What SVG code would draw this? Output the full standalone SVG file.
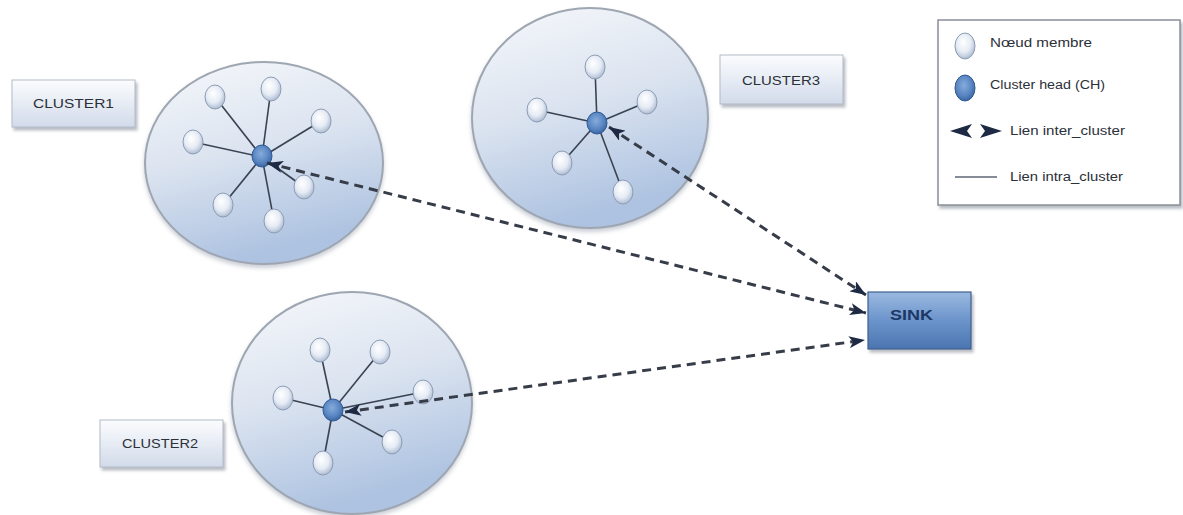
<svg xmlns="http://www.w3.org/2000/svg" width="1183" height="515" viewBox="0 0 1183 515">
  <defs>
    <linearGradient id="clusterFill" x1="0" y1="0" x2="0.3" y2="1">
      <stop offset="0" stop-color="#f6f8fb"/>
      <stop offset="0.5" stop-color="#dce4f0"/>
      <stop offset="1" stop-color="#aec3e1"/>
    </linearGradient>
    <radialGradient id="memberFill" cx="0.45" cy="0.4" r="0.6" fx="0.4" fy="0.35">
      <stop offset="0" stop-color="#ffffff"/>
      <stop offset="0.6" stop-color="#e6ecf5"/>
      <stop offset="1" stop-color="#aebdd3"/>
    </radialGradient>
    <radialGradient id="headFill" cx="0.45" cy="0.4" r="0.6">
      <stop offset="0" stop-color="#86acdc"/>
      <stop offset="0.7" stop-color="#5582bf"/>
      <stop offset="1" stop-color="#3a65a0"/>
    </radialGradient>
    <linearGradient id="labelFill" x1="0" y1="0" x2="0" y2="1">
      <stop offset="0" stop-color="#fbfcfe"/>
      <stop offset="1" stop-color="#d2dbea"/>
    </linearGradient>
    <linearGradient id="sinkFill" x1="0" y1="0" x2="0" y2="1">
      <stop offset="0" stop-color="#9bb9e0"/>
      <stop offset="0.5" stop-color="#6b94cb"/>
      <stop offset="1" stop-color="#4b75b0"/>
    </linearGradient>
    <filter id="shadow" x="-10%" y="-10%" width="130%" height="130%">
      <feDropShadow dx="2" dy="3" stdDeviation="1.5" flood-color="#7d8591" flood-opacity="0.55"/>
    </filter>
    <filter id="softShadow" x="-10%" y="-10%" width="120%" height="125%">
      <feDropShadow dx="0" dy="3" stdDeviation="2" flood-color="#8a93a3" flood-opacity="0.45"/>
    </filter>
    <marker id="stealth" viewBox="0 0 16 12" refX="16" refY="6" markerWidth="16" markerHeight="12" markerUnits="userSpaceOnUse" orient="auto-start-reverse">
      <path d="M0,0 L16,6 L0,12 L4,6 Z" fill="#1e2a44"/>
    </marker>
    <g id="member">
      <ellipse rx="10" ry="12" fill="url(#memberFill)" stroke="#8d9cb4" stroke-width="1"/>
    </g>
    <g id="head">
      <ellipse rx="10" ry="11" fill="url(#headFill)" stroke="#2f5a94" stroke-width="1"/>
    </g>
  </defs>
  <style>
    .cluster { fill: url(#clusterFill); stroke: #9ea6b2; stroke-width: 2; }
    .intra { stroke: #3a4352; stroke-width: 1.6; fill: none; }
    .inter { stroke: #363c48; stroke-width: 3; fill: none; stroke-dasharray: 9 6; }
    .label { fill: url(#labelFill); stroke: #b3bbc8; stroke-width: 1; }
    .labeltext { font-family: "Liberation Sans", Arial, sans-serif; font-size: 13px; fill: #2c3038; }
    .legendtext { font-family: "Liberation Sans", Arial, sans-serif; font-size: 12px; fill: #2c3038; }
  </style>

  <rect width="1183" height="515" fill="#ffffff"/>

  <!-- Cluster 1 -->
  <g id="cluster1">
    <ellipse class="cluster" cx="264" cy="163" rx="119" ry="101" filter="url(#softShadow)"/>
    <g class="intra">
      <line x1="262" y1="157" x2="215" y2="97"/>
      <line x1="262" y1="157" x2="271" y2="89"/>
      <line x1="262" y1="157" x2="321" y2="121"/>
      <line x1="262" y1="157" x2="193" y2="142"/>
      <line x1="262" y1="157" x2="304" y2="187"/>
      <line x1="262" y1="157" x2="223" y2="205"/>
      <line x1="262" y1="157" x2="274" y2="221"/>
    </g>
    <use href="#member" x="215" y="97"/>
    <use href="#member" x="271" y="89"/>
    <use href="#member" x="321" y="121"/>
    <use href="#member" x="193" y="142"/>
    <use href="#member" x="304" y="187"/>
    <use href="#member" x="223" y="205"/>
    <use href="#member" x="274" y="221"/>
    <use href="#head" x="262" y="156"/>
  </g>

  <!-- Cluster 3 -->
  <g id="cluster3">
    <ellipse class="cluster" cx="590" cy="118" rx="118" ry="110" filter="url(#softShadow)"/>
    <g class="intra">
      <line x1="597" y1="123" x2="595" y2="67"/>
      <line x1="597" y1="123" x2="647" y2="102"/>
      <line x1="597" y1="123" x2="537" y2="110"/>
      <line x1="597" y1="123" x2="562" y2="163"/>
      <line x1="597" y1="123" x2="623" y2="192"/>
    </g>
    <use href="#member" x="595" y="67"/>
    <use href="#member" x="647" y="102"/>
    <use href="#member" x="537" y="110"/>
    <use href="#member" x="562" y="163"/>
    <use href="#member" x="623" y="192"/>
    <use href="#head" x="597" y="123"/>
  </g>

  <!-- Cluster 2 -->
  <g id="cluster2">
    <ellipse class="cluster" cx="352" cy="403" rx="120" ry="111" filter="url(#softShadow)"/>
    <g class="intra">
      <line x1="333" y1="410" x2="320" y2="350"/>
      <line x1="333" y1="410" x2="380" y2="352"/>
      <line x1="333" y1="410" x2="423" y2="392"/>
      <line x1="333" y1="410" x2="283" y2="398"/>
      <line x1="333" y1="410" x2="392" y2="442"/>
      <line x1="333" y1="410" x2="323" y2="463"/>
    </g>
    <use href="#member" x="320" y="350"/>
    <use href="#member" x="380" y="352"/>
    <use href="#member" x="423" y="392"/>
    <use href="#member" x="283" y="398"/>
    <use href="#member" x="392" y="442"/>
    <use href="#member" x="323" y="463"/>
    <use href="#head" x="333" y="410"/>
  </g>

  <!-- Cluster name tags -->
  <g id="label-cluster1">
    <rect class="label" x="12" y="80" width="123" height="47" filter="url(#shadow)"/>
    <text class="labeltext" x="33" y="108" textLength="81" lengthAdjust="spacingAndGlyphs">CLUSTER1</text>
  </g>
  <g id="label-cluster3">
    <rect class="label" x="720" y="55" width="123" height="49" filter="url(#shadow)"/>
    <text class="labeltext" x="742" y="85" textLength="78" lengthAdjust="spacingAndGlyphs">CLUSTER3</text>
  </g>
  <g id="label-cluster2">
    <rect class="label" x="100" y="420" width="123" height="47" filter="url(#shadow)"/>
    <text class="labeltext" x="122" y="448" textLength="76" lengthAdjust="spacingAndGlyphs">CLUSTER2</text>
  </g>

  <!-- Sink -->
  <g id="sink">
    <rect x="868" y="292" width="103" height="57" fill="url(#sinkFill)" stroke="#3e5f8f" stroke-width="1.2" filter="url(#shadow)"/>
    <text x="890" y="320" font-family="'Liberation Sans', Arial, sans-serif" font-size="14" font-weight="bold" fill="#1d3766" textLength="43" lengthAdjust="spacingAndGlyphs">SINK</text>
  </g>

  <!-- Inter-cluster links (cluster heads to sink) -->
  <g id="connectors">
    <line class="inter" x1="267" y1="163" x2="866" y2="313" marker-start="url(#stealth)" marker-end="url(#stealth)"/>
    <line class="inter" x1="609" y1="127" x2="866" y2="295" marker-start="url(#stealth)" marker-end="url(#stealth)"/>
    <line class="inter" x1="345" y1="412" x2="865" y2="340" marker-start="url(#stealth)" marker-end="url(#stealth)"/>
  </g>

  <!-- Legend -->
  <g id="legend">
    <rect x="938" y="20" width="242" height="185" fill="#ffffff" stroke="#8a8f99" stroke-width="1.5" filter="url(#shadow)"/>
    <ellipse cx="965" cy="46" rx="10" ry="13" fill="url(#memberFill)" stroke="#8d9cb4" stroke-width="1"/>
    <text class="legendtext" x="990" y="47" textLength="102" lengthAdjust="spacingAndGlyphs">Nœud membre</text>
    <ellipse cx="965" cy="88" rx="10" ry="13" fill="url(#headFill)" stroke="#2f5a94" stroke-width="1"/>
    <text class="legendtext" x="990" y="89" textLength="115" lengthAdjust="spacingAndGlyphs">Cluster head (CH)</text>
    <path d="M950,131 L972,124 L967,131 L972,138 Z" fill="#1e2a44"/>
    <path d="M1002,131 L980,124 L985,131 L980,138 Z" fill="#1e2a44"/>
    <text class="legendtext" x="1010" y="135" textLength="115" lengthAdjust="spacingAndGlyphs">Lien inter_cluster</text>
    <line x1="955" y1="177" x2="997" y2="177" stroke="#5d6675" stroke-width="1.5"/>
    <text class="legendtext" x="1010" y="181" textLength="113" lengthAdjust="spacingAndGlyphs">Lien intra_cluster</text>
  </g>
</svg>
